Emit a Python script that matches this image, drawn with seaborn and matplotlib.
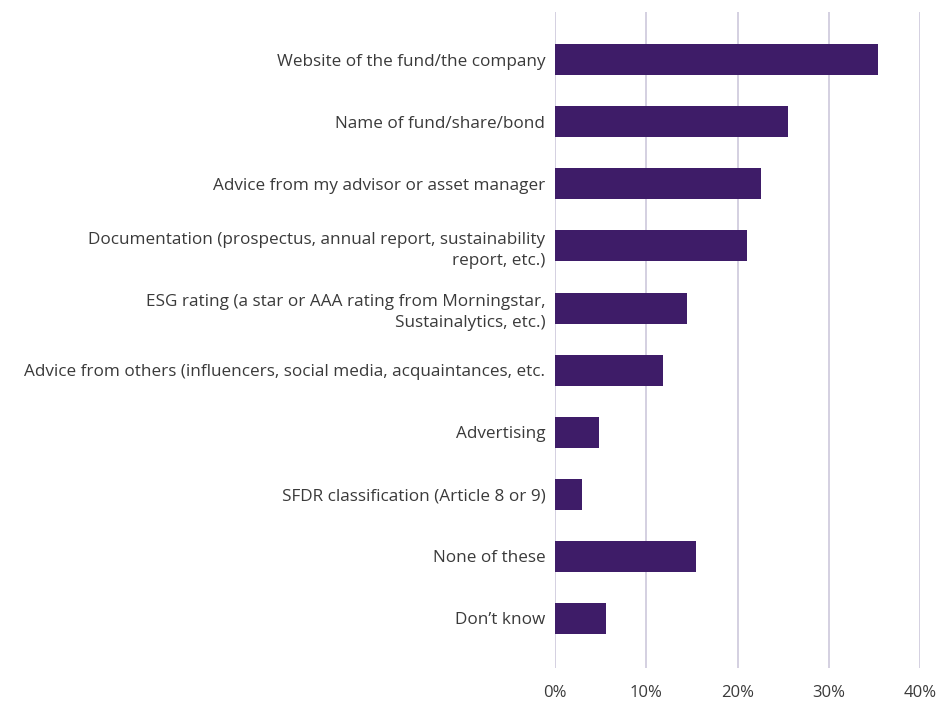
import matplotlib
matplotlib.use("Agg")
import matplotlib.pyplot as plt
import seaborn as sns
import pandas as pd
from matplotlib.ticker import FuncFormatter

categories = [
    "Website of the fund/the company",
    "Name of fund/share/bond",
    "Advice from my advisor or asset manager",
    "Documentation (prospectus, annual report, sustainability\nreport, etc.)",
    "ESG rating (a star or AAA rating from Morningstar,\nSustainalytics, etc.)",
    "Advice from others (influencers, social media, acquaintances, etc.",
    "Advertising",
    "SFDR classification (Article 8 or 9)",
    "None of these",
    "Don\u2019t know",
]
values = [35.4, 25.5, 22.6, 21.0, 14.5, 11.8, 4.8, 3.0, 15.5, 5.6]
xticks = [0, 10, 20, 30, 40]

df = pd.DataFrame({"category": categories, "value": values})

sns.set_theme(style="white")
plt.rcParams["font.family"] = ["Open Sans", "DejaVu Sans"]

fig = plt.figure(figsize=(9.39, 7.01), dpi=100)
ax = fig.add_axes([555 / 939, 1 - 668 / 701, (920 - 555) / 939, (668 - 12) / 701])

sns.barplot(data=df, x="value", y="category", orient="h", color="#3e1c68",
            saturation=1, width=0.5, linewidth=0, ax=ax, zorder=3)

ax.set_xlim(0, 40)
ax.set_ylim(9.8, -0.77)
ax.set_xticks(xticks)
ax.xaxis.set_major_formatter(FuncFormatter(lambda v, p: f"{v:.0f}%"))
ax.grid(axis="x", color="#cdc8dc", linewidth=1.2, zorder=0)
ax.grid(axis="y", visible=False)
for s in ax.spines.values():
    s.set_visible(False)
ax.set_xlabel("")
ax.set_ylabel("")
ax.tick_params(axis="x", length=0, pad=12, labelsize=12, labelcolor="#3a3a3a")
ax.tick_params(axis="y", length=0, pad=7, labelsize=12.3, labelcolor="#3a3a3a")
for lbl in ax.get_yticklabels():
    lbl.set_horizontalalignment("right")
    lbl.set_multialignment("right")
    lbl.set_linespacing(1.4)

fig.savefig("out.png", dpi=100)
